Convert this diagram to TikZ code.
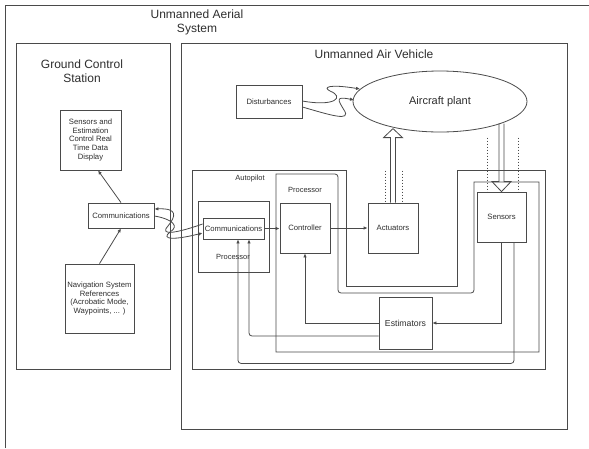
\documentclass[tikz,border=0pt]{standalone}
\usepackage{fontspec}
\setmainfont{Liberation Sans}
\usetikzlibrary{calc,arrows.meta,shapes.geometric}
\definecolor{linec}{HTML}{4A4A4A}
\definecolor{txtc}{HTML}{2E2E2E}
\begin{document}
\begin{tikzpicture}[x=1pt,y=-1pt,
  ln/.style={draw=linec, line width=0.8pt},
  box/.style={draw=linec, line width=0.8pt, inner sep=1pt, align=center,
    text=txtc, font=\fontsize{7.7}{8.8}\selectfont},
  arr/.style={draw=linec, line width=0.8pt, -{Latex[length=4pt,width=3.5pt]}},
  title/.style={text=txtc, align=center, inner sep=0pt, font=\fontsize{12}{14}\selectfont},
  tag/.style={text=txtc, inner sep=0pt, font=\fontsize{7.5}{9}\selectfont},
  dots/.style={draw=linec, line width=1pt, dotted},
]
\useasboundingbox (0,0) rectangle (589,448);

% outer system frame (runs off the page)
\draw[ln] (5,448) -- (5,5) -- (589,5);
\node[title] (ttlsys) at (197,22) {Unmanned Aerial\\System};

% ground control station
\draw[ln] (16,43) rectangle (170,369);
\node[title] (ttlgcs) at (82,71) {Ground Control\\Station};
\node[box, minimum width=61pt, minimum height=60pt] (disp) at (90.5,140)
  {Sensors and\\Estimation\\Control Real\\Time Data\\Display};
\node[box, minimum width=66pt, minimum height=25pt] (gcomm) at (121,215.5) {Communications};
\node[box, minimum width=69pt, minimum height=69pt] (nav) at (99.5,298.5)
  {Navigation System\\References\\(Acrobatic Mode,\\Waypoints, ... )};
\draw[arr] (nav.north) -- (gcomm.south);
\draw[arr] (gcomm.north) -- ($(disp.south)+(7.5,0)$);

% unmanned air vehicle
\draw[ln] (181,43) rectangle (567,429);
\node[title] (ttluav) at (374,54) {Unmanned Air Vehicle};
\node[box, minimum width=66pt, minimum height=33pt] (dist) at (269,101.5) {Disturbances};
\node[draw=linec, line width=0.8pt, ellipse, minimum width=174pt, minimum height=61pt,
  inner sep=0pt, text=txtc, font=\fontsize{11}{13}\selectfont] (plant) at (440,101.5) {Aircraft plant};

% autopilot and processor outlines, notched around the actuators
\draw[ln] (192,170) -- (346,170) -- (346,286) -- (457,286) -- (457,170)
  -- (545,170) -- (545,369) -- (192,369) -- cycle;
\node[tag] (lblap) at (250,179) {Autopilot};
\draw[ln, rounded corners=3pt] (276,174) -- (338,174) -- (338,293) -- (474,293)
  [sharp corners] -- (474,182) -- (539,182) -- (539,352) -- (276,352) -- cycle;
\node[tag] (lblpr) at (305,190) {Processor};

\draw[ln] (198,201) rectangle (269,272);
\node[tag] (lblpl) at (233,257) {Processor};

\node[box, minimum width=61pt, minimum height=21pt, inner sep=0pt] (ucomm) at (233.5,228.5) {Communications};
\node[box, minimum width=50pt, minimum height=50pt] (ctrl) at (305,228) {Controller};
\node[box, minimum width=50pt, minimum height=50pt] (act) at (393,228) {Actuators};
\node[box, minimum width=49pt, minimum height=50pt] (sens) at (501.5,217) {Sensors};
\node[box, minimum width=53pt, minimum height=52pt, font=\fontsize{8.7}{10}\selectfont] (est) at (405.5,323) {Estimators};

% forward path
\draw[arr] (ucomm.east) -- (ucomm.east -| ctrl.west);
\draw[arr] (ctrl.east) -- (act.west);

% feedback paths
\draw[arr] (sens.south) |- (est.east);
\draw[arr] (est.west) -| (ctrl.south);
\draw[arr, rounded corners=3pt] ($(est.west)+(0,13)$) -| ($(ucomm.south)+(15.5,0)$);
\draw[arr, rounded corners=3pt] ($(sens.south)+(12.5,0)$) -- ++(0,121) -| ($(ucomm.south)+(4.5,0)$);

% actuators drive the plant (hollow wide arrow)
\draw[ln] ($(act.north)+(-2.5,0)$) -- ++(0,-65) -- ++(-7,0) -- ++(9.5,-9)
  -- ++(9.5,9) -- ++(-7,0) -- ++(0,65);
\draw[dots] ($(act.north)+(-8,-32)$) -- ($(act.north)+(-8,0)$);
\draw[dots] ($(act.north)+(9,-32)$) -- ($(act.north)+(9,0)$);

% plant measured by the sensors (hollow wide arrow)
\draw[ln] ($(sens.north)+(-2.5,-68)$) -- ++(0,58) -- ++(-7,0) -- (sens.north)
  -- ++(9.5,-10) -- ++(-7,0) -- ++(0,-58);
\draw[dots] ($(sens.north)+(-14.5,-54)$) -- ($(sens.north)+(-14.5,0)$);
\draw[dots] ($(sens.north)+(16.5,-54)$) -- ($(sens.north)+(16.5,0)$);

% disturbances acting on the plant
\draw[arr] ($(dist.east)+(0,-0.5)$) .. controls (335,107) and (345,97) .. (330,91)
  .. controls (322,87) and (330,84) .. (360,89);
\draw[arr] ($(dist.east)+(0,5.5)$) .. controls (330,115) and (352,122) .. (344,110)
  .. controls (338,100) and (335,96) .. (354,100);

% radio link between the two communication units
\draw[arr] ($(ucomm.west)+(0,-4.5)$) .. controls (180,232) and (158,237) .. (168,226)
  .. controls (176,216) and (178,208) .. (gcomm.east |- 0,209);
\draw[arr] ($(gcomm.east)+(0,0.5)$) .. controls (172,219) and (180,226) .. (170,232)
  .. controls (160,240) and (175,240) .. ($(ucomm.west)+(0,4.5)$);
\end{tikzpicture}
\end{document}
